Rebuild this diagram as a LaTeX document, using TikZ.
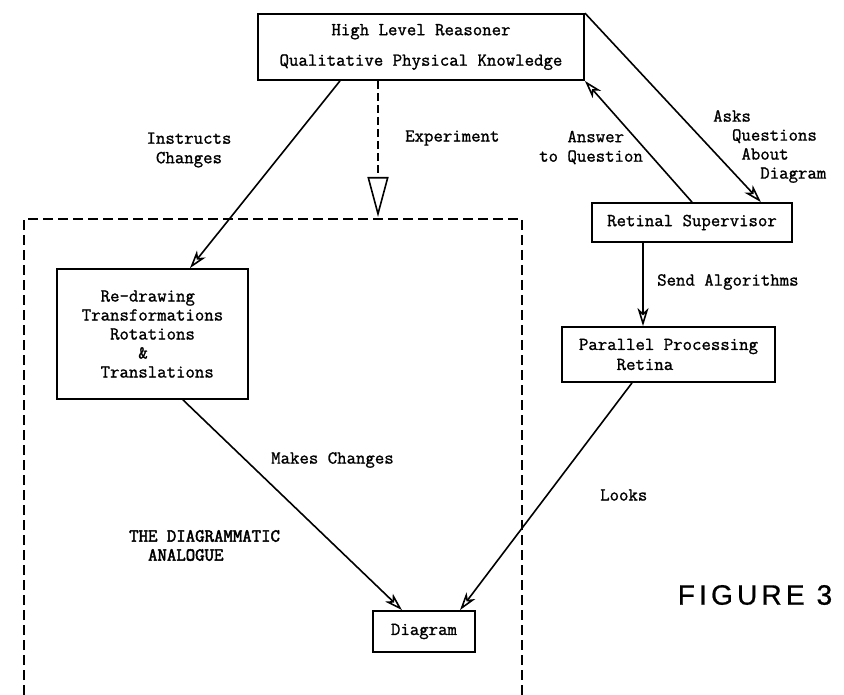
\documentclass[tikz,border=0pt]{standalone}
\usepackage{fontspec}
\setmonofont{Latin Modern Mono}[FakeBold=1.2]
\newfontfamily\tbold{Latin Modern Mono}[FakeBold=2.6]
\newfontfamily\figfont{Liberation Sans}[LetterSpace=15,FakeBold=0.8]
\usetikzlibrary{arrows.meta,calc}
\newcommand\tfont{\ttfamily\fontsize{18.3}{19.5}\selectfont}
\begin{document}
\begin{tikzpicture}[x=1pt,y=-1pt,
  box/.style={draw, line width=1.8pt, inner sep=0pt, font=\tfont, align=center},
  lab/.style={inner sep=0pt, font=\tfont, align=left, anchor=west},
  arr/.style={line width=1.6pt, -{Stealth[open, length=18pt, width=11pt, inset=5pt, fill=white]}},
  frame/.style={line width=2.2pt, dash pattern=on 10pt off 5pt}]
\useasboundingbox (0,0) rectangle (844,695);

% dashed frame of the diagrammatic analogue
\draw[frame] (24,695) -- (24,219) -- (522,219) -- (522,695);

% boxes
\node[box, minimum width=326pt, minimum height=66pt] (hlr) at (421,47)
  {High Level Reasoner\\[11pt]Qualitative Physical Knowledge};
\node[box, minimum width=200pt, minimum height=39pt] (rs) at (692,222.5) {Retinal Supervisor};
\node[box, minimum width=213pt, minimum height=55pt, align=left,
      font=\ttfamily\fontsize{18.3}{20}\selectfont] (pp) at (668.5,354.5)
  {Parallel Processing\\\phantom{Para}Retina};
\node[box, minimum width=191pt, minimum height=130pt, align=left,
      font=\ttfamily\fontsize{18.3}{19}\selectfont] (rd) at (152.5,334)
  {\phantom{xx}Re-drawing\\Transformations\\\phantom{xxx}Rotations\\\phantom{xxxxxx}\&\\\phantom{xx}Translations};
\node[box, minimum width=102pt, minimum height=41pt] (dg) at (424,631.5) {Diagram};

\coordinate (expend) at (378,217);

% connectors
\draw[line width=2pt, dash pattern=on 8pt off 4pt,
      -{Triangle[open, length=40pt, width=21pt, fill=white, line width=1.6pt]}]
  ([xshift=-43pt]hlr.south) -- (expend);
\draw[arr] ([xshift=-81pt]hlr.south) -- ([xshift=37.5pt]rd.north);
\draw[arr] (hlr.north east) -- ([xshift=-32pt]rs.north east);
\draw[arr] (rs.north) -- (hlr.south east);
\draw[arr] ([xshift=-49pt]rs.south) -- ([xshift=-25.5pt]pp.north);
\draw[arr] ([xshift=-36.5pt]pp.south) -- ([xshift=36pt]dg.north);
\draw[arr] ([xshift=30.5pt]rd.south) -- ([xshift=-22pt]dg.north);

% labels
\node[lab, align=center, anchor=center] (l1) at (189,150) {Instructs\\Changes};
\node[lab] (l2) at (405,138) {Experiment};
\node[lab] (l3) at (539,147.5) {\phantom{to }Answer\\to Question};
\node[lab, font=\ttfamily\fontsize{18.3}{19}\selectfont] (l4) at (713,146.5)
  {Asks\\\phantom{xx}Questions\\\phantom{xxx}About\\\phantom{xxxxx}Diagram};
\node[lab] (l5) at (657,282) {Send Algorithms};
\node[lab] (l6) at (271,460) {Makes Changes};
\node[lab, font=\tbold\fontsize{18.3}{19}\selectfont] (l7) at (129,545.5) {THE DIAGRAMMATIC\\\phantom{xx}ANALOGUE};
\node[lab] (l8) at (600,495) {Looks};
\node[inner sep=0pt, font=\figfont\fontsize{28}{28}\selectfont] (fig) at (755,595) {FIGURE 3};
\end{tikzpicture}
\end{document}
